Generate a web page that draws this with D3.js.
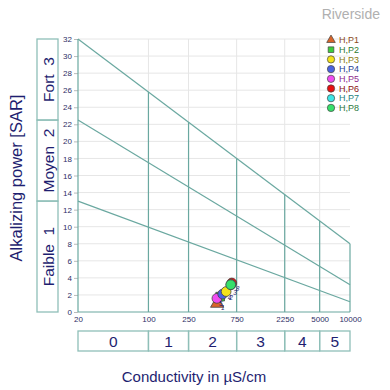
<!DOCTYPE html>
<html><head><meta charset="utf-8">
<script src="https://cdn.jsdelivr.net/npm/d3@7"></script>
<style>body{margin:0;background:#fff}svg{display:block;font-family:"Liberation Sans",Arial,sans-serif}</style>
</head><body><svg id="c" width="390" height="390"></svg>
<script>
const xTicks = [20, 100, 250, 750, 2250, 5000, 10000];
const yTicks = d3.range(0, 33, 2);
const condClasses = ["0", "1", "2", "3", "4", "5"];
const sarClasses = [{label:"Faible  1", lo:0, hi:13}, {label:"Moyen  2", lo:13, hi:22.5}, {label:"Fort  3", lo:22.5, hi:32}];
const boundaryStart = [13, 22.5, 32];   // SAR at C=20
const boundaryEnd = [1.2, 3.2, 8];      // SAR at C=10000
const seriesNames = ["H,P1","H,P2","H,P3","H,P4","H,P5","H,P6","H,P7","H,P8"];
const seriesCond = [480, 515, 590, 545, 478, 672, 660, 655];
const seriesSAR = [1.0, 1.8, 2.4, 2.1, 1.6, 3.4, 3.2, 3.2];
const seriesFill = ["#d9652a","#3ccf3c","#f3e21a","#4a62e0","#f04cf0","#e80f0f","#3de6e6","#36e06a"];
const seriesText = ["#8a4a1c","#2d7a2d","#8a7a10","#283e92","#8e2a8e","#8a1010","#1f7f80","#2d7a3d"];
const seriesShape = ["triangle","square","circle","circle","circle","circle","circle","circle"];

const svg = d3.select("#c");
const x = d3.scaleLog().domain([20, 10000]).range([78, 350]);
const y = d3.scaleLinear().domain([0, 32]).range([312, 39]);
const teal = "#6aa8a0", grid = "#e6e6e6", navy = "#1e1e70";

// grid
svg.append("g").selectAll("line").data(yTicks.slice(1)).join("line")
  .attr("x1", x(20)).attr("x2", x(10000)).attr("y1", d=>y(d)).attr("y2", d=>y(d))
  .attr("stroke", grid).attr("stroke-width", 1);
svg.append("g").selectAll("line").data(xTicks.slice(1, -1)).join("line")
  .attr("x1", d=>x(d)).attr("x2", d=>x(d)).attr("y1", y(0)).attr("y2", y(32))
  .attr("stroke", grid).attr("stroke-width", 1);

// y axis ticks
const yAx = svg.append("g").attr("transform", `translate(${x(20)},0)`)
  .call(d3.axisLeft(y).tickValues(yTicks).tickSize(4).tickPadding(2));
yAx.select(".domain").remove();
yAx.selectAll(".tick line").attr("stroke", "#bbb");
yAx.selectAll("text").attr("fill", "#2e2e66").attr("font-size", 8).attr("font-family", "Liberation Sans, Arial");

const xAx = svg.append("g").attr("transform", `translate(0,${y(0)})`)
  .call(d3.axisBottom(x).tickValues(xTicks).tickFormat(d3.format("d")).tickSize(0).tickPadding(4));
xAx.select(".domain").remove();
xAx.selectAll("text").attr("fill", "#2e2e66").attr("font-size", 8).attr("font-family", "Liberation Sans, Arial");

// boundary lines
const lineVal = (i, c) => boundaryStart[i] + (boundaryEnd[i] - boundaryStart[i]) * (Math.log10(c) - Math.log10(20)) / (Math.log10(10000) - Math.log10(20));
svg.append("g").selectAll("line").data(boundaryStart).join("line")
  .attr("x1", x(20)).attr("y1", (d,i)=>y(boundaryStart[i]))
  .attr("x2", x(10000)).attr("y2", (d,i)=>y(boundaryEnd[i]))
  .attr("stroke", teal).attr("stroke-width", 1.2);
svg.append("g").selectAll("line").data(xTicks).join("line")
  .attr("x1", d=>x(d)).attr("x2", d=>x(d)).attr("y1", y(0)).attr("y2", d=>y(lineVal(2, d)))
  .attr("stroke", teal).attr("stroke-width", 1.2);
svg.append("line").attr("x1", x(20)).attr("x2", x(10000)).attr("y1", y(0)).attr("y2", y(0))
  .attr("stroke", teal).attr("stroke-width", 1.2);

// left SAR class boxes
const lb = svg.append("g");
sarClasses.forEach(c => {
  lb.append("rect").attr("x", 37).attr("width", 21).attr("y", y(c.hi)).attr("height", y(c.lo) - y(c.hi))
    .attr("fill", "none").attr("stroke", "#8fbfb8").attr("stroke-width", 1.3);
  const cy = (y(c.lo) + y(c.hi)) / 2;
  lb.append("text").attr("transform", `translate(53.5,${cy}) rotate(-90)`).attr("text-anchor", "middle")
    .attr("fill", navy).attr("font-size", 15.5).text(c.label).style("white-space", "pre");
});

// bottom conductivity boxes
const bb = svg.append("g");
condClasses.forEach((c, i) => {
  const a = x(xTicks[i]), b = x(xTicks[i + 1]);
  bb.append("rect").attr("x", a).attr("width", b - a).attr("y", 331).attr("height", 20)
    .attr("fill", "none").attr("stroke", "#8fbfb8").attr("stroke-width", 1.3);
  bb.append("text").attr("x", (a + b) / 2).attr("y", 347).attr("text-anchor", "middle")
    .attr("fill", navy).attr("font-size", 15.5).text(c);
});

// axis titles
svg.append("text").attr("x", 194).attr("y", 382).attr("text-anchor", "middle").attr("fill", navy)
  .attr("font-size", 15).text("Conductivity in µS/cm");
svg.append("text").attr("transform", "translate(22,178) rotate(-90)").attr("text-anchor", "middle")
  .attr("fill", navy).attr("font-size", 16.5).text("Alkalizing power [SAR]");
svg.append("text").attr("x", 380).attr("y", 19).attr("text-anchor", "end").attr("fill", "#b0b0b0")
  .attr("font-size", 14).text("Riverside");

// points
const sym = (s, r) => s === "triangle" ? d3.symbol(d3.symbolTriangle, r)() : s === "square" ? d3.symbol(d3.symbolSquare, r)() : d3.symbol(d3.symbolCircle, r)();
const order = [0, 1, 4, 3, 2, 5, 6, 7];
const pts = svg.append("g");
order.forEach(i => {
  pts.append("path").attr("d", sym(seriesShape[i], 75))
    .attr("transform", `translate(${x(seriesCond[i])},${y(seriesSAR[i])})`)
    .attr("fill", seriesFill[i]).attr("stroke", "#444").attr("stroke-width", 0.8);
});
const lblDx = [4, 9, 7, 5, 2, 9, 7, 5];
const lblDy = [7, 3, 3, 6, 8, -2, 1, 6];
[0, 1, 2, 3, 4, 7].forEach(i => {
  pts.append("text").attr("x", x(seriesCond[i]) + lblDx[i]).attr("y", y(seriesSAR[i]) + lblDy[i])
    .attr("font-size", 6.5).attr("font-style", "italic").attr("fill", navy).text(String(i + 1));
});

// legend
const lg = svg.append("g");
seriesNames.forEach((n, i) => {
  const yy = 40 + i * 9.7;
  lg.append("path").attr("d", sym(seriesShape[i], seriesShape[i] === "circle" ? 42 : 32))
    .attr("transform", `translate(331,${yy})`).attr("fill", seriesFill[i]).attr("stroke", "#444").attr("stroke-width", 0.7);
  lg.append("text").attr("x", 339).attr("y", yy + 3.2).attr("font-size", 9).attr("fill", seriesText[i]).text(n);
});
</script></body></html>
